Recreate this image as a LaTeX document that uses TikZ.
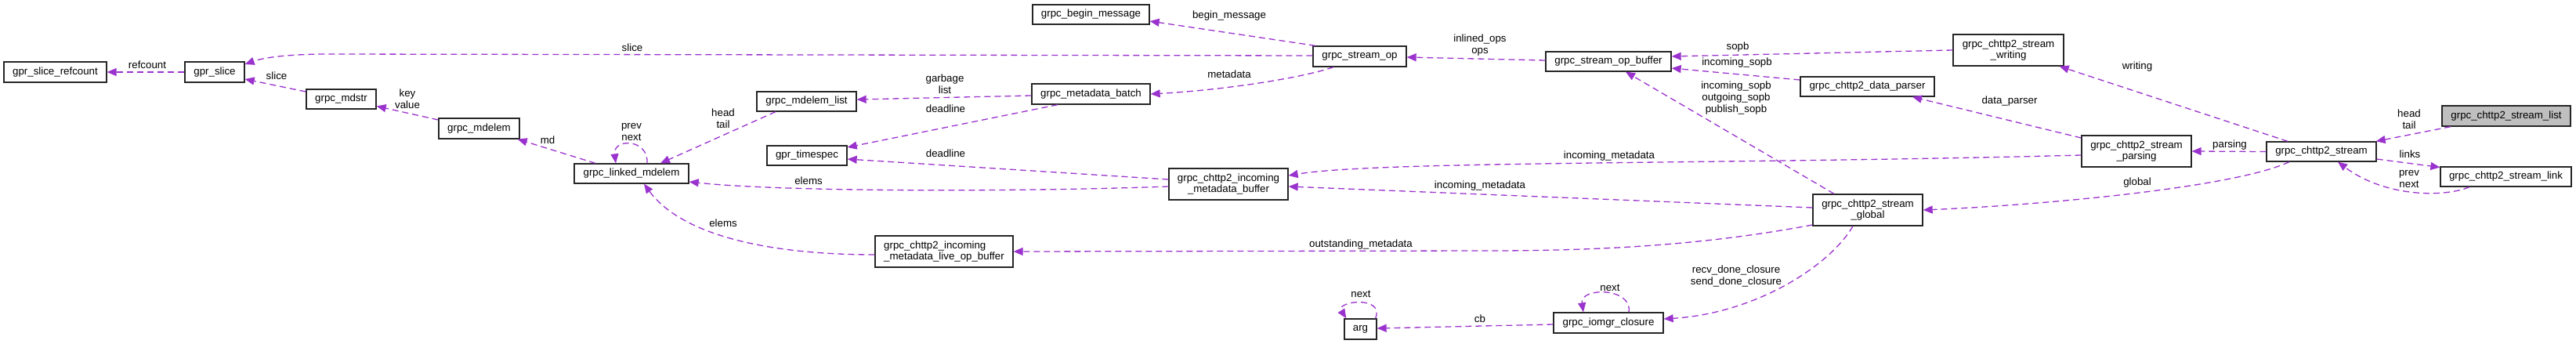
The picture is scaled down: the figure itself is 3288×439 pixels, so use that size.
\documentclass[tikz,border=0pt]{standalone}
\usepackage{fontspec}
\setmainfont{Liberation Sans}
\usetikzlibrary{arrows.meta,calc}
\definecolor{edgecol}{RGB}{154,50,205}
\begin{document}
\begin{tikzpicture}[x=1pt,y=-1pt,
  box/.style 2 args={draw=black!85, line width=1.3pt, fill=white, inner sep=0pt, align=center,
    minimum width=#1pt, minimum height=#2pt, font=\fontsize{13.3}{14.5}\selectfont},
  lbl/.style={inner sep=0pt, align=center, font=\fontsize{13.3}{15}\selectfont},
  edge/.style={draw=edgecol, line width=1.3pt, dash pattern=on 8pt off 5pt,
    -{Triangle[length=12pt,width=10pt]}}
]
\useasboundingbox (0,0) rectangle (3288,439);

% classes
\node[box={131}{26}] (refc) at (70.5,92) {gpr\_slice\_refcount};
\node[box={76}{26}] (slice) at (274,92) {gpr\_slice};
\node[box={89}{25}] (mdstr) at (435.5,126.5) {grpc\_mdstr};
\node[box={103}{26}] (mdelem) at (611.5,164) {grpc\_mdelem};
\node[box={146}{25}] (lmd) at (806,221.5) {grpc\_linked\_mdelem};
\node[box={127}{25}] (mdlist) at (1029.5,129.5) {grpc\_mdelem\_list};
\node[box={102}{25}] (timespec) at (1030,198.5) {gpr\_timespec};
\node[box={176}{40},align=left] (liveop) at (1205,321) {grpc\_chttp2\_incoming\\\_metadata\_live\_op\_buffer};
\node[box={149}{25}] (beginmsg) at (1392.5,18.5) {grpc\_begin\_message};
\node[box={151}{26}] (mdbatch) at (1392.5,120) {grpc\_metadata\_batch};
\node[box={119}{26}] (streamop) at (1735.5,72) {grpc\_stream\_op};
\node[box={152}{40}] (inbuf) at (1568,235) {grpc\_chttp2\_incoming\\\_metadata\_buffer};
\node[box={41}{26}] (arg) at (1736.5,420) {arg};
\node[box={140}{26}] (iomgr) at (2053,412) {grpc\_iomgr\_closure};
\node[box={160}{25}] (sopbuf) at (2053,78.5) {grpc\_stream\_op\_buffer};
\node[box={171}{25}] (dataparser) at (2383.5,110.5) {grpc\_chttp2\_data\_parser};
\node[box={141}{40}] (writing) at (2563.5,64) {grpc\_chttp2\_stream\\\_writing};
\node[box={140}{40}] (global) at (2384,268) {grpc\_chttp2\_stream\\\_global};
\node[box={140}{40}] (parsing) at (2727,193) {grpc\_chttp2\_stream\\\_parsing};
\node[box={140}{25}] (stream) at (2963,193.5) {grpc\_chttp2\_stream};
\node[box={164}{26},fill=black!25] (slist) at (3199,148) {grpc\_chttp2\_stream\_list};
\node[box={167}{25}] (slink) at (3198.5,225.5) {grpc\_chttp2\_stream\_link};

% connectors
\draw[edge] (slice.west) -- (refc.east);
\draw[edge] ([yshift=9.5pt]mdstr.west) -- ([yshift=-9pt]slice.east);
\draw[edge] ([yshift=11pt]mdelem.west) -- ([yshift=-9pt]mdstr.east);
\draw[edge] ([xshift=-46pt]lmd.north) -- ([xshift=-3pt]mdelem.south east);
\draw[edge] ([xshift=20pt]lmd.north) .. controls +(2,-32) and +(-4,-32) .. ([xshift=-20pt]lmd.north);
\draw[edge] ([xshift=-39.5pt]mdlist.south) -- ([xshift=37pt]lmd.north);
\draw[edge] ([yshift=-2pt]mdbatch.west) -- ([yshift=2.5pt]mdlist.east);
\draw[edge] ([xshift=-42.5pt]mdbatch.south) -- ([yshift=10.5pt]timespec.east);
\draw[edge] ([yshift=6pt]inbuf.west) -- ([yshift=-4.5pt]timespec.east);
\draw[edge] ([yshift=-3pt]inbuf.west) .. controls (1300,245) and (1000,245) .. ([yshift=-10.5pt]lmd.east);
\draw[edge] ([yshift=-4pt]liveop.west) .. controls (980,325) and (870,300) .. ([xshift=16pt]lmd.south);
\draw[edge] ([xshift=-56.5pt]streamop.north) -- ([yshift=-8.5pt]beginmsg.east);
\draw[edge] ([xshift=-33.5pt]streamop.south) .. controls (1660,100) and (1560,115) .. (mdbatch.east);
\draw[edge] ([yshift=1pt]streamop.west) -- (420,69) .. controls (365,69) and (335,74) .. ([yshift=10pt]slice.east);
\draw[edge] ([yshift=1.5pt]sopbuf.west) -- ([yshift=-1pt]streamop.east);
\draw[edge] (writing.west) -- ([yshift=6.5pt]sopbuf.east);
\draw[edge] ([yshift=8.5pt]dataparser.west) -- ([yshift=-8.5pt]sopbuf.east);
\draw[edge] ([xshift=-43pt]global.north) -- ([xshift=22pt]sopbuf.south);
\draw[edge] ([yshift=17pt]parsing.west) -- ([xshift=57.5pt]dataparser.south);
\draw[edge] ([yshift=-5pt]parsing.west) .. controls (2200,210) and (1760,205) .. ([yshift=11pt]inbuf.east);
\draw[edge] ([yshift=3pt]global.west) -- ([yshift=-3pt]inbuf.east);
\draw[edge] ([yshift=-19pt]global.west) .. controls (2180,312) and (2050,320) .. (1900,320) -- (liveop.east);
\draw[edge] ([xshift=-19pt]global.south) .. controls (2335,340) and (2240,400) .. ([yshift=5pt]iomgr.east);
\draw[edge] ([xshift=26pt]iomgr.north) .. controls +(5,-32) and +(-5,-32) .. ([xshift=-32pt]iomgr.north);
\draw[edge] ([yshift=-2pt]iomgr.west) -- ([yshift=1pt]arg.east);
\draw[edge] ([xshift=-2pt]arg.north east) .. controls +(12,-30) and +(-14,-22) .. ([xshift=3pt]arg.north west);
\draw[edge] ([xshift=-43pt]stream.north) -- ([xshift=-6pt]writing.south east);
\draw[edge] (stream.west) -- (parsing.east);
\draw[edge] ([xshift=-41pt]stream.south) .. controls (2850,240) and (2600,262) .. (global.east);
\draw[edge] ([xshift=-71pt]slist.south) -- ([xshift=-1pt]stream.north east);
\draw[edge] ([yshift=-9.5pt]stream.east) -- ([yshift=12pt]slink.west);
\draw[edge] ([xshift=-46.5pt]slink.south) .. controls (3120,252) and (3045,252) .. ([xshift=21pt]stream.south);

% labels
\node[lbl] (l1) at (188,83) {refcount};
\node[lbl] (l2) at (353,97) {slice};
\node[lbl] (l3) at (520,126) {key\\value};
\node[lbl] (l4) at (699,179) {md};
\node[lbl] (l5) at (806,168) {prev\\next};
\node[lbl] (l6) at (923,151) {head\\tail};
\node[lbl] (l7) at (1206,107) {garbage\\list};
\node[lbl] (l8) at (1207,139) {deadline};
\node[lbl] (l9) at (1207,196) {deadline};
\node[lbl] (l10) at (1032,231) {elems};
\node[lbl] (l11) at (923,285) {elems};
\node[lbl] (l12) at (807,61) {slice};
\node[lbl] (l13) at (1569,20) {begin\_message};
\node[lbl] (l14) at (1569,95) {metadata};
\node[lbl] (l15) at (1889,58) {inlined\_ops\\ops};
\node[lbl] (l16) at (2054,199) {incoming\_metadata};
\node[lbl] (l17) at (1889,237) {incoming\_metadata};
\node[lbl] (l18) at (1737,312) {outstanding\_metadata};
\node[lbl] (l19) at (1737,375) {next};
\node[lbl] (l20) at (1889,407) {cb};
\node[lbl] (l21) at (2218,60) {sopb};
\node[lbl] (l22) at (2217,80) {incoming\_sopb};
\node[lbl] (l23) at (2216,125) {incoming\_sopb\\outgoing\_sopb\\publish\_sopb};
\node[lbl] (l24) at (2565,129) {data\_parser};
\node[lbl] (l25) at (2216,352) {recv\_done\_closure\\send\_done\_closure};
\node[lbl] (l26) at (2055,367) {next};
\node[lbl] (l27) at (2728,85) {writing};
\node[lbl] (l28) at (2846,185) {parsing};
\node[lbl] (l29) at (2728,233) {global};
\node[lbl] (l30) at (3075,152) {head\\tail};
\node[lbl] (l31) at (3076,197) {links};
\node[lbl] (l32) at (3075,228) {prev\\next};
\end{tikzpicture}
\end{document}
